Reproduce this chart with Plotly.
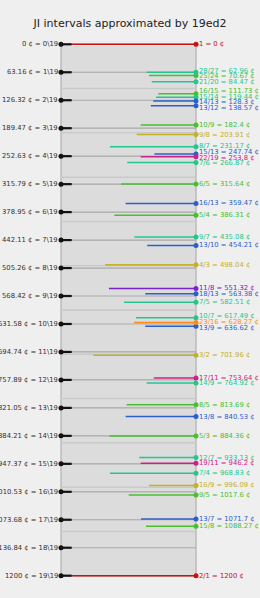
import plotly.graph_objects as go

# ---------------- data ----------------
edo_steps = list(range(20))
edo_cents = [0, 63.16, 126.32, 189.47, 252.63, 315.79, 378.95, 442.11, 505.26,
             568.42, 631.58, 694.74, 757.89, 821.05, 884.21, 947.37, 1010.53,
             1073.68, 1136.84, 1200]

ji_ratios = ["1/1", "28/27", "25/24", "21/20", "16/15", "15/14", "14/13", "13/12",
             "10/9", "9/8", "8/7", "15/13", "22/19", "7/6", "6/5", "16/13", "5/4",
             "9/7", "13/10", "4/3", "11/8", "18/13", "7/5", "10/7", "23/16", "13/9",
             "3/2", "17/11", "14/9", "8/5", "13/8", "5/3", "12/7", "19/11", "7/4",
             "16/9", "9/5", "13/7", "15/8", "2/1"]
ji_cents = [0, 62.96, 70.67, 84.47, 111.73, 119.44, 128.3, 138.57,
            182.4, 203.91, 231.17, 247.74, 253.8, 266.87, 315.64, 359.47, 386.31,
            435.08, 454.21, 498.04, 551.32, 563.38, 582.51, 617.49, 628.27, 636.62,
            701.96, 753.64, 764.92, 813.69, 840.53, 884.36, 933.13, 946.2, 968.83,
            996.09, 1017.6, 1071.7, 1088.27, 1200]
# relative line length (prominence), 2/1 = 1
ji_prominence = [1.0, 0.397, 0.378, 0.356, 0.303, 0.322, 0.344, 0.364,
                 0.445, 0.477, 0.692, 0.335, 0.445, 0.553, 0.603, 0.566, 0.657,
                 0.496, 0.392, 0.732, 0.700, 0.408, 0.579, 0.483, 0.499, 0.408,
                 0.826, 0.340, 0.397, 0.558, 0.566, 0.697, 0.456, 0.445, 0.692,
                 0.378, 0.541, 0.442, 0.402, 1.0]
grid_cents = [100, 200, 300, 400, 500, 600, 700, 800, 900, 1000, 1100]

# ---------------- styling ----------------
W, H = 260, 598
ML, MR, MT, MB = 55, 58, 42, 20
PX_PER_CENT = 0.44283
PX_PER_UNIT = 124.3
Y_RANGE = [1205.19, -5.19]
X_RANGE = [1.1344, -0.0483]
BOX_LEFT = 1.0861
BOX_RIGHT = 0.0
BOX_TOP = 3.84
BOX_BOTTOM = 1202.9
FONT = "DejaVu Sans"
LABEL_SIZE = 6.8

LIMIT_COLORS = {1: "#cc1111", 2: "#cc1111", 3: "#c4b02a", 5: "#47bf2f",
                7: "#25c68e", 11: "#7a22cc", 13: "#2b5fcc", 17: "#cc2288",
                19: "#cc2288", 23: "#ff8a1a"}


def prime_limit(ratio):
    n, d = (int(v) for v in ratio.split("/"))
    m = n * d
    p, best = 2, 1
    while m > 1:
        while m % p == 0:
            best = p
            m //= p
        p += 1
    return best


def fmt(c):
    return f"{c:g}"


fig = go.Figure()

# gridlines (every 100 cents) inside box
gx, gy = [], []
for c in grid_cents:
    gx += [BOX_LEFT, BOX_RIGHT, None]
    gy += [c, c, None]
fig.add_trace(go.Scatter(x=gx, y=gy, mode="lines",
                         line=dict(color="#c9c9c9", width=1.5),
                         hoverinfo="skip", showlegend=False))

# edo step lines
ex, ey = [], []
for c in edo_cents:
    ex += [BOX_LEFT, BOX_RIGHT, None]
    ey += [c, c, None]
fig.add_trace(go.Scatter(x=ex, y=ey, mode="lines",
                         line=dict(color="#a9a9a9", width=1.2),
                         hoverinfo="skip", showlegend=False))

# JI lines grouped by colour
limits = [prime_limit(r) for r in ji_ratios]
for lim in sorted(set(limits)):
    col = LIMIT_COLORS[lim]
    lx, ly, mx, my = [], [], [], []
    for r, c, p, l in zip(ji_ratios, ji_cents, ji_prominence, limits):
        if l != lim:
            continue
        lx += [p, 0, None]
        ly += [c, c, None]
        mx.append(0)
        my.append(c)
    fig.add_trace(go.Scatter(x=lx, y=ly, mode="lines",
                             line=dict(color=col, width=1.5),
                             hoverinfo="skip", showlegend=False))
    fig.add_trace(go.Scatter(x=mx, y=my, mode="markers",
                             marker=dict(color=col, size=5),
                             cliponaxis=False,
                             hoverinfo="skip", showlegend=False))

# black edo ticks and dots
tx, ty = [], []
for c in edo_cents:
    tx += [BOX_LEFT, 1.0, None]
    ty += [c, c, None]
fig.add_trace(go.Scatter(x=tx, y=ty, mode="lines",
                         line=dict(color="#111111", width=2.2),
                         hoverinfo="skip", showlegend=False))
fig.add_trace(go.Scatter(x=[BOX_LEFT] * len(edo_cents), y=edo_cents, mode="markers",
                         marker=dict(color="#111111", size=5), cliponaxis=False,
                         hoverinfo="skip", showlegend=False))

# left labels
annotations = []
for k, c in zip(edo_steps, edo_cents):
    annotations.append(dict(x=BOX_LEFT, y=c, xref="x", yref="y",
                            text=f"{fmt(c)} ¢ = {k}\\19", showarrow=False,
                            xanchor="right", yanchor="middle", xshift=-1,
                            font=dict(family=FONT, size=LABEL_SIZE, color="#333333")))

# right labels with overlap avoidance
gap = 5.67 / PX_PER_CENT
order = sorted(range(len(ji_cents)), key=lambda i: ji_cents[i])
clusters = []
for i in order:
    clusters.append({"idx": [i], "top": ji_cents[i]})
    while len(clusters) > 1:
        a, b = clusters[-2], clusters[-1]
        a_end = a["top"] + gap * (len(a["idx"]) - 1)
        if b["top"] < a_end + gap:
            idx = a["idx"] + b["idx"]
            mean = sum(ji_cents[j] for j in idx) / len(idx)
            clusters[-2:] = [{"idx": idx, "top": mean - gap * (len(idx) - 1) / 2}]
        else:
            break
label_pos = {}
for cl in clusters:
    for n, j in enumerate(cl["idx"]):
        label_pos[j] = cl["top"] + n * gap

for i, (r, c, l) in enumerate(zip(ji_ratios, ji_cents, limits)):
    name = "1" if r == "1/1" else r
    annotations.append(dict(x=0, y=label_pos[i], xref="x", yref="y",
                            text=f"{name} = {fmt(c)} ¢", showarrow=False,
                            xanchor="left", yanchor="middle", xshift=1,
                            font=dict(family=FONT, size=LABEL_SIZE, color=LIMIT_COLORS[l])))

shapes = [
    dict(type="rect", xref="x", yref="y", x0=BOX_LEFT, x1=BOX_RIGHT, y0=BOX_TOP, y1=BOX_BOTTOM,
         fillcolor="#dcdcdc", line=dict(width=0), layer="below"),
    dict(type="line", xref="x", yref="y", x0=BOX_LEFT, x1=BOX_LEFT, y0=BOX_TOP, y1=BOX_BOTTOM,
         line=dict(color="#a6a6a6", width=1), layer="below"),
    dict(type="line", xref="x", yref="y", x0=BOX_RIGHT, x1=BOX_RIGHT, y0=BOX_TOP, y1=BOX_BOTTOM,
         line=dict(color="#a6a6a6", width=1), layer="below"),
]

fig.update_layout(
    width=W, height=H,
    margin=dict(l=ML, r=MR, t=MT, b=MB, pad=0),
    paper_bgcolor="#efefef", plot_bgcolor="#efefef",
    title=dict(text="JI intervals approximated by 19ed2", x=0.5, xref="paper",
               xanchor="center", y=1 - 23.0 / H, yref="container", yanchor="middle",
               font=dict(family=FONT, size=11, color="#222222")),
    xaxis=dict(range=X_RANGE, visible=False, fixedrange=True),
    yaxis=dict(range=Y_RANGE, visible=False, fixedrange=True),
    annotations=annotations, shapes=shapes, showlegend=False,
)
fig.update_layout(title_x=(W / 2 - ML) / (W - ML - MR))

fig.write_html("out.html")
